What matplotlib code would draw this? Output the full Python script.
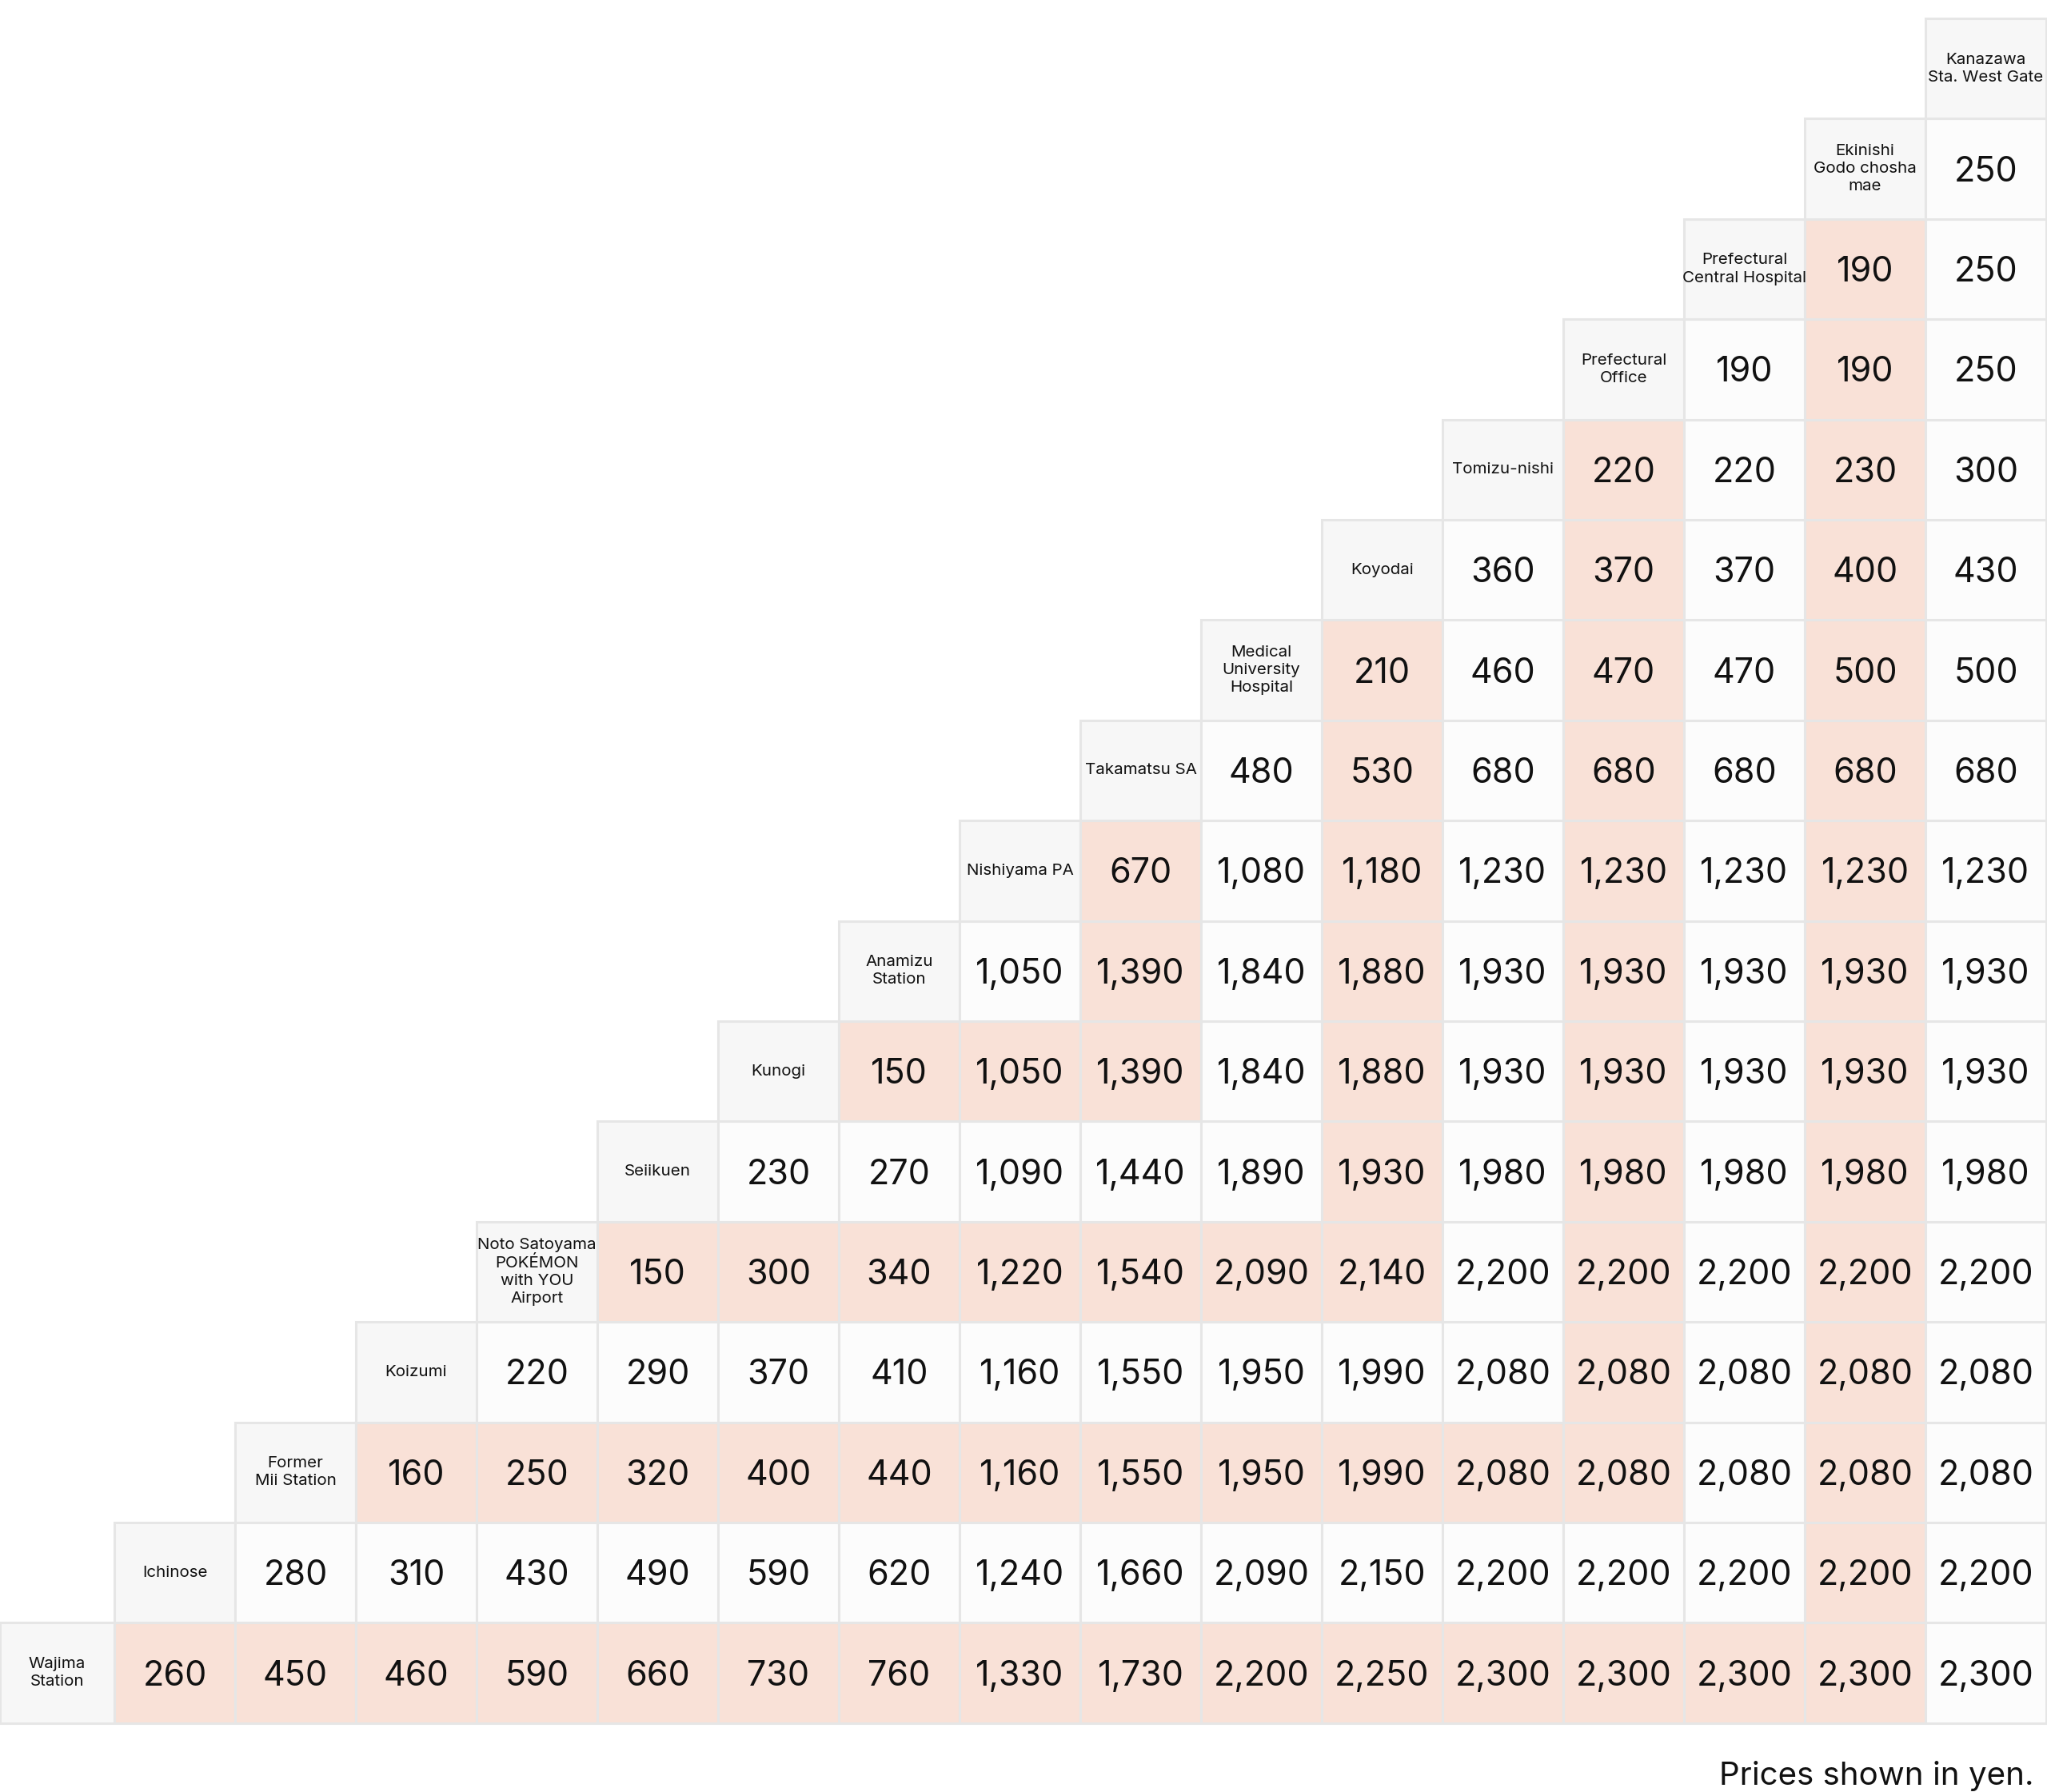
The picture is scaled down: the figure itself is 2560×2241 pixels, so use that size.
import matplotlib.pyplot as plt
from matplotlib.patches import Rectangle

plt.rcParams['font.family'] = ['Inter', 'DejaVu Sans']

# stations from Wajima (bottom-left) to Kanazawa (top-right)
stations = [
    'Wajima\nStation',
    'Ichinose',
    'Former\nMii Station',
    'Koizumi',
    'Noto Satoyama\nPOKÉMON\nwith YOU\nAirport',
    'Seiikuen',
    'Kunogi',
    'Anamizu\nStation',
    'Nishiyama PA',
    'Takamatsu SA',
    'Medical\nUniversity\nHospital',
    'Koyodai',
    'Tomizu-nishi',
    'Prefectural\nOffice',
    'Prefectural\nCentral Hospital',
    'Ekinishi\nGodo chosha\nmae',
    'Kanazawa\nSta. West Gate',
]

# fares from each station to every station after it
fares_wajima = [260, 450, 460, 590, 660, 730, 760, 1330, 1730, 2200, 2250, 2300, 2300, 2300, 2300, 2300]
fares_ichinose = [280, 310, 430, 490, 590, 620, 1240, 1660, 2090, 2150, 2200, 2200, 2200, 2200, 2200]
fares_mii = [160, 250, 320, 400, 440, 1160, 1550, 1950, 1990, 2080, 2080, 2080, 2080, 2080]
fares_koizumi = [220, 290, 370, 410, 1160, 1550, 1950, 1990, 2080, 2080, 2080, 2080, 2080]
fares_airport = [150, 300, 340, 1220, 1540, 2090, 2140, 2200, 2200, 2200, 2200, 2200]
fares_seiikuen = [230, 270, 1090, 1440, 1890, 1930, 1980, 1980, 1980, 1980, 1980]
fares_kunogi = [150, 1050, 1390, 1840, 1880, 1930, 1930, 1930, 1930, 1930]
fares_anamizu = [1050, 1390, 1840, 1880, 1930, 1930, 1930, 1930, 1930]
fares_nishiyama = [670, 1080, 1180, 1230, 1230, 1230, 1230, 1230]
fares_takamatsu = [480, 530, 680, 680, 680, 680, 680]
fares_medical = [210, 460, 470, 470, 500, 500]
fares_koyodai = [360, 370, 370, 400, 430]
fares_tomizu = [220, 220, 230, 300]
fares_pref_office = [190, 190, 250]
fares_central_hosp = [190, 250]
fares_ekinishi = [250]

fare_rows = [fares_wajima, fares_ichinose, fares_mii, fares_koizumi, fares_airport,
             fares_seiikuen, fares_kunogi, fares_anamizu, fares_nishiyama, fares_takamatsu,
             fares_medical, fares_koyodai, fares_tomizu, fares_pref_office,
             fares_central_hosp, fares_ekinishi]

header_color = '#f7f7f7'
cell_color = '#fcfcfc'
pink_color = '#f9e1d7'
line_color = '#e6e6e6'
text_color = '#111111'

n = len(stations)
first_w = 143
col_w = 151
top = 23
row_h = 125.4


def col_left(c):
    return 0 if c == 0 else first_w + (c - 1) * col_w


def col_width(c):
    return first_w if c == 0 else col_w


def row_top(a):
    return top + (n - 1 - a) * row_h


fig = plt.figure(figsize=(25.6, 22.41), dpi=100)
ax = fig.add_axes([0, 0, 1, 1])
ax.set_xlim(0, 2560)
ax.set_ylim(2241, 0)
ax.axis('off')

for a in range(n):
    y0 = row_top(a)
    # station header cell
    x0 = col_left(a)
    ax.add_patch(Rectangle((x0, y0), col_width(a), row_h, facecolor=header_color,
                           edgecolor=line_color, linewidth=2.2))
    ax.text(x0 + col_width(a) / 2, y0 + row_h / 2, stations[a], ha='center', va='center',
            fontsize=14.8, color=text_color, linespacing=1.3)
    if a == n - 1:
        continue
    for k, fare in enumerate(fare_rows[a]):
        c = a + 1 + k
        b = n - 1 - c
        # nested L-shaped bands
        pink = (a < b and a % 2 == 0) or (a >= b and b % 2 == 1)
        ax.add_patch(Rectangle((col_left(c), y0), col_width(c), row_h,
                               facecolor=pink_color if pink else cell_color,
                               edgecolor=line_color, linewidth=2.2))
        ax.text(col_left(c) + col_width(c) / 2, y0 + row_h / 2 + 4, f'{fare:,}',
                ha='center', va='center', fontsize=31, color=text_color)

ax.text(2543, 2232, 'Prices shown in yen.', ha='right', va='baseline',
        fontsize=29, color=text_color)

plt.savefig('out.png', dpi=100, facecolor='white')
